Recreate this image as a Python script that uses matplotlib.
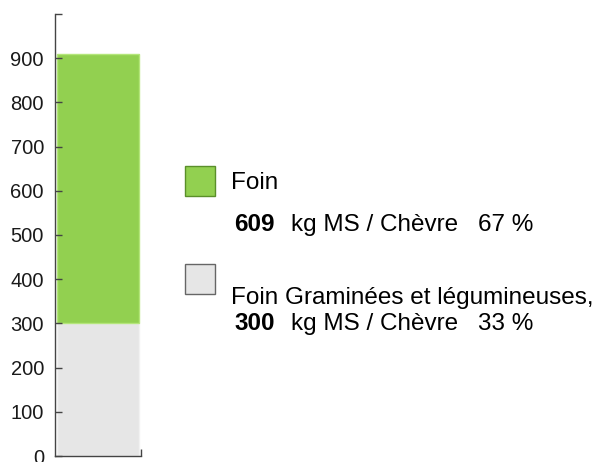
import matplotlib
matplotlib.use("Agg")
import matplotlib.pyplot as plt
from matplotlib.patches import Rectangle

plt.rcParams['font.family'] = ['Liberation Sans', 'DejaVu Sans']

# data
categories = ["Foin Graminées et légumineuses", "Foin"]
values = [300, 609]
percents = [33, 67]
colors = ["#e6e6e6", "#92d050"]
edges = ["#f2f2f2", "#b4e67a"]
yticks = list(range(0, 1000, 100))

W, H = 596, 462
fig = plt.figure(figsize=(W / 100, H / 100), dpi=100)
ax = fig.add_axes([55 / W, 6 / H, 86 / W, 442 / H])

bottom = 0
for v, c, e in zip(values, colors, edges):
    ax.bar(0, v, bottom=bottom, width=0.96, color=c, edgecolor=e, linewidth=1, align='center')
    bottom += v

ax.set_xlim(-0.5, 0.5)
ax.set_ylim(0, 1000)
ax.set_yticks(yticks + [1000])
ax.set_yticklabels([str(t) for t in yticks] + [""])
ax.tick_params(axis='y', direction='in', length=5, width=1, color='#444444',
               labelsize=14.5, labelcolor='#1a1a1a', pad=8)
ax.set_xticks([0.5])
ax.set_xticklabels([""])
ax.tick_params(axis='x', direction='in', length=5, width=1, color='#444444')
for s in ['top', 'right']:
    ax.spines[s].set_visible(False)
for s in ['left', 'bottom']:
    ax.spines[s].set_color('#444444')
    ax.spines[s].set_linewidth(1)


def px(x, y):
    return x / W, 1 - y / H


# legend boxes
boxes = [(185, 264, colors[0], "#666666"), (185, 166, colors[1], "#5a8f2a")]
for x, y, c, e in boxes:
    fig.patches.append(Rectangle(px(x, y + 30), 30 / W, 30 / H, transform=fig.transFigure,
                                 facecolor=c, edgecolor=e, linewidth=1))

fs = 17.5
kw = dict(fontsize=fs, va='baseline', ha='left', color='black')
# Foin
fig.text(*px(231, 189), categories[1], **kw)
fig.text(*px(234, 231), str(values[1]), fontweight='bold', **kw)
fig.text(*px(291, 231), "kg MS / Chèvre", **kw)
fig.text(*px(478, 231), "%d %%" % percents[1], **kw)

# Foin graminées
fig.text(*px(231, 304), categories[0] + ",", **kw)
fig.text(*px(234, 330), str(values[0]), fontweight='bold', **kw)
fig.text(*px(291, 330), "kg MS / Chèvre", **kw)
fig.text(*px(478, 330), "%d %%" % percents[0], **kw)

fig.savefig("out.png", dpi=100)
